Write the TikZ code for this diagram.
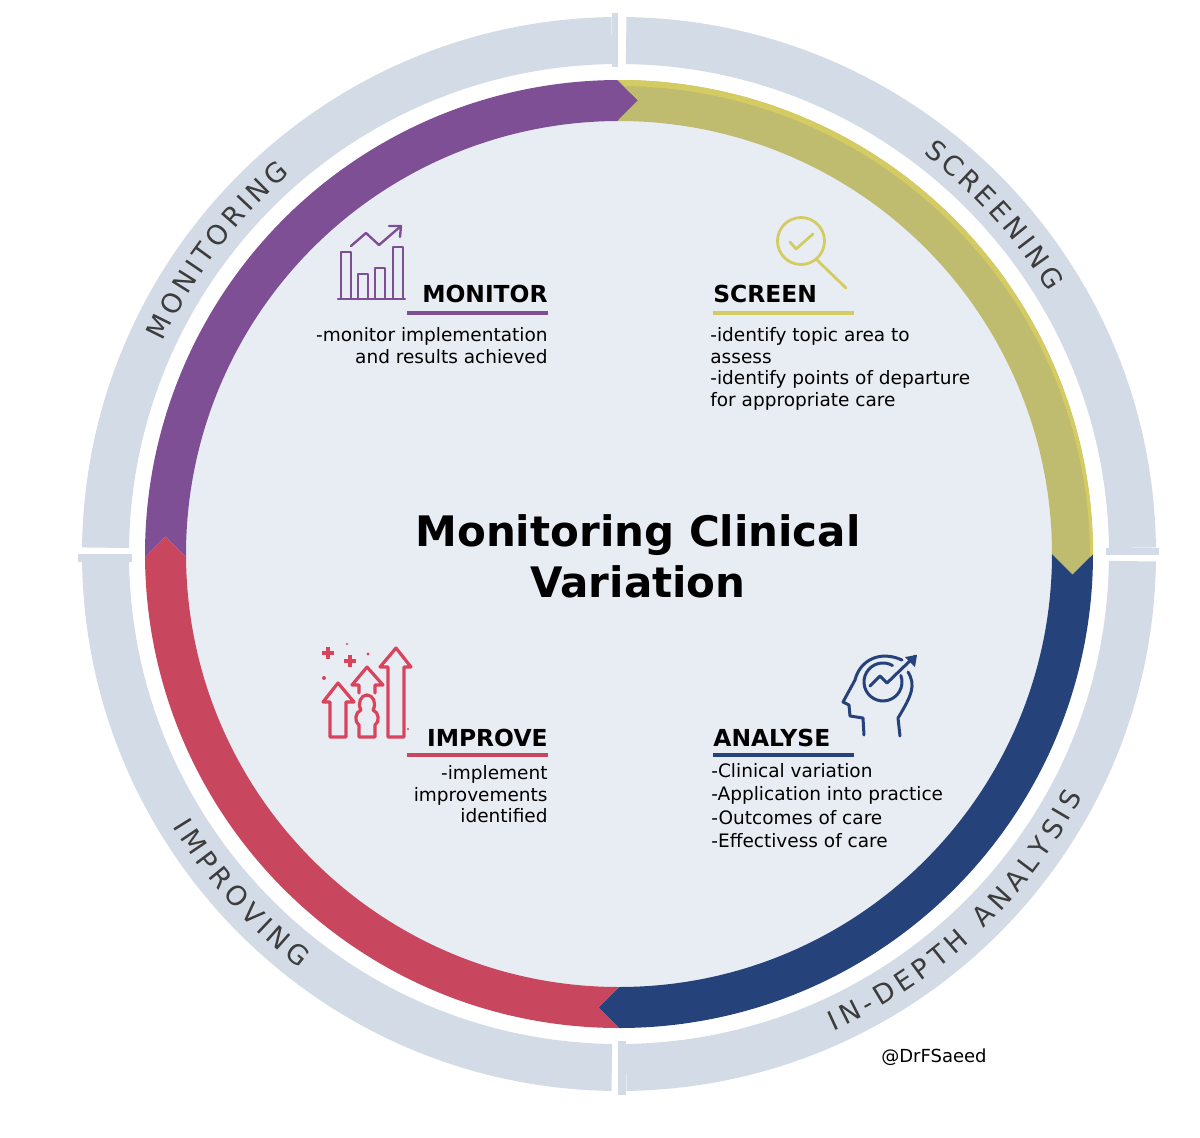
\documentclass[tikz,border=0pt]{standalone}
\usepackage{fontspec}
\setmainfont{DejaVu Sans}
\usetikzlibrary{positioning, decorations.text}
\definecolor{ringgrey}{HTML}{D3DBE6}
\definecolor{diskblue}{HTML}{E8EDF4}
\definecolor{monpurple}{HTML}{7F4F96}
\definecolor{scrolive}{HTML}{BFBC6F}
\definecolor{scryellow}{HTML}{D4CB62}
\definecolor{analnavy}{HTML}{26427A}
\definecolor{imprred}{HTML}{C8475F}
\definecolor{iconred}{HTML}{D9435B}
\definecolor{ringtext}{HTML}{3C3C3C}
\newcommand{\ringfont}{\fontsize{13.5}{14}\selectfont\color{ringtext}}
\tikzset{
  pix/.style={shift={(-619,554)},yscale=-1},
  headtext/.style={font=\fontsize{11.7}{12}\selectfont\bfseries, inner sep=0pt},
  bodytext/.style={font=\fontsize{9.25}{10.8}\selectfont, inner sep=0pt},
  icon/.style={line width=1.2pt, line join=round, line cap=round}
}

\begin{document}
\begin{tikzpicture}[x=0.5pt,y=0.5pt]
  \useasboundingbox (-619,-583) rectangle (581,554);
  % outer ring
  \foreach \a/\b in {89.2/0.7, -0.8/-89.2, -90.8/-180, 179.3/90.8}
    \fill[ringgrey] (\a:537) arc[start angle=\a,end angle=\b,radius=537]
      -- (\b:490) arc[start angle=\b,end angle=\a,radius=490] -- cycle;
  \fill[ringgrey] (487,6) rectangle (540,-1);
  \fill[ringgrey] (-1,-487) rectangle (7,-541);
  \fill[ringgrey] (-541,0) rectangle (-487,-8);
  \fill[ringgrey] (-7,541) rectangle (-1,487);
  % disk and coloured arrows
  \fill[diskblue] (0,0) circle[radius=434];
  \foreach \segcol/\a/\b in {monpurple/180.4/90.2, scrolive/90.2/0, analnavy/0/-90, imprred/-90/-179.6}
    \fill[\segcol] (\a:474) arc[start angle=\a,end angle=\b,radius=474]
      -- ({\b-2.6}:454) -- (\b:433) arc[start angle=\b,end angle=\a,radius=433]
      -- ({\a-2.6}:454) -- cycle;
  \fill[scryellow] (90:474) arc[start angle=90,end angle=0,radius=474]
    -- (471,-3) arc[start angle=0,end angle=89.3,radius=471] -- cycle;
  % ring labels
  \path[decorate, decoration={text along path, text align=fit to path,
    text={|\ringfont|SCREENING}}]
    (52.8:503) arc[start angle=52.8,end angle=31.4,radius=503];
  \path[decorate, decoration={text along path, text align=fit to path,
    text={|\ringfont|MONITORING}}]
    (155:503) arc[start angle=155,end angle=130.8,radius=503];
  \path[decorate, decoration={text along path, text align=fit to path,
    text={|\ringfont|IMPROVING}}]
    (211.4:523) arc[start angle=211.4,end angle=232.4,radius=523];
  \path[decorate, decoration={text along path, text align=fit to path,
    text={|\ringfont|IN-DEPTH ANALYSIS}}]
    (294.2:523) arc[start angle=294.2,end angle=332.4,radius=523];
  \begin{scope}[pix]
    \node[font=\fontsize{21}{25.5}\selectfont\bfseries, align=center] (title) at (638,556)
      {Monitoring Clinical\\Variation};
    % monitor
    \node[headtext, anchor=east] (monhead) at (548,294) {MONITOR};
    \draw[monpurple, line width=1.8pt] (407,313) -- (548,313);
    \node[bodytext, align=right, anchor=north east] (monbody) at (548,327)
      {-monitor implementation\\and results achieved};
    \draw[monpurple, icon] (338,299) -- (405,299);
    \foreach \xa/\ya in {341/252, 358/274, 375/268, 393/247}
      \draw[monpurple, icon] (\xa,299) -- (\xa,\ya) -- ++(10,0) -- (\xa+10,299);
    \draw[monpurple, icon] (351,246) -- (366,233) -- (379,245) -- (401,226);
    \draw[monpurple, icon] (389,226) -- (401,226) -- (400,237);
    % screen
    \node[headtext, anchor=west] (scrhead) at (713,294) {SCREEN};
    \draw[scryellow, line width=1.8pt] (713,313) -- (854,313);
    \node[bodytext, align=left, anchor=north west] (scrbody) at (710,327)
      {-identify topic area to\\assess\\-identify points of departure\\for appropriate care};
    \draw[scryellow, icon, line width=1.4pt] (801,241) circle[radius=23.5];
    \draw[scryellow, icon, line width=1.4pt] (817,260) -- (846,288);
    \draw[scryellow, icon, line width=1.4pt] (790,242) -- (796,249) -- (813,234);
    % analyse
    \node[headtext, anchor=west] (analhead) at (713,738) {ANALYSE};
    \draw[analnavy, line width=1.8pt] (713,755) -- (854,755);
    \node[bodytext, font=\fontsize{9.25}{11.7}\selectfont, align=left, anchor=north west] (analbody) at (711,763)
      {-Clinical variation\\-Application into practice\\-Outcomes of care\\-Effectivess of care};
    \draw[analnavy, icon, line width=1.5pt] (864,735) -- (863,718) -- (850,716) -- (849,705) -- (843,702)
      -- (855,680) .. controls (860,660) and (880,650) .. (902,660);
    \draw[analnavy, icon, line width=1.5pt] (908,672) .. controls (916,685) and (912,695) .. (898,718) -- (900,736);
    \draw[analnavy, icon, line width=1.5pt] (892.5,665.5) arc[start angle=-60,end angle=-380,radius=19];
    \draw[analnavy, icon, line width=1.5pt] (870,686) -- (880,676) -- (887,683) -- (915,656);
    \fill[analnavy] (917,655) -- (905,657) -- (915,667) -- cycle;
    % improve
    \node[headtext, anchor=east] (imphead) at (548,738) {IMPROVE};
    \draw[imprred, line width=1.8pt] (407,755) -- (548,755);
    \node[bodytext, align=right, anchor=north east] (impbody) at (548,765)
      {-implement\\improvements\\identified};
    \draw[iconred, icon, line width=1.6pt] (330,737) -- (330,702) -- (323,702) -- (338,683) -- (354,702)
      -- (346,702) -- (346,737) -- cycle;
    \draw[iconred, icon, line width=1.6pt] (359,693) -- (359,685) -- (352,685) -- (367,667) -- (383,685)
      -- (375,685) -- (375,693);
    \draw[iconred, icon, line width=1.6pt] (388,737) -- (388,667) -- (380,667) -- (396,648) -- (411,667)
      -- (404,667) -- (404,737) -- cycle;
    \draw[iconred, icon, line width=1.6pt] (359,737) -- (359,725) .. controls (354,722) and (355,712) .. (361,710)
      .. controls (357,703) and (361,695) .. (367,695) .. controls (373,695) and (377,703) .. (373,710)
      .. controls (379,712) and (380,722) .. (375,725) -- (375,737) -- cycle;
    \draw[iconred, line width=1.6pt] (322,653) -- (334,653) (328,647) -- (328,659);
    \draw[iconred, line width=1.6pt] (344,661) -- (356,661) (350,655) -- (350,667);
    \foreach \xa/\ya/\ra in {347/644/1.2, 368/654/1.6, 324/678/2, 408/729/1.1}
      \fill[iconred] (\xa,\ya) circle[radius=\ra];
    \node[font=\fontsize{9}{11}\selectfont, inner sep=0pt] (handle) at (934,1057) {@DrFSaeed};
  \end{scope}
\end{tikzpicture}
\end{document}
